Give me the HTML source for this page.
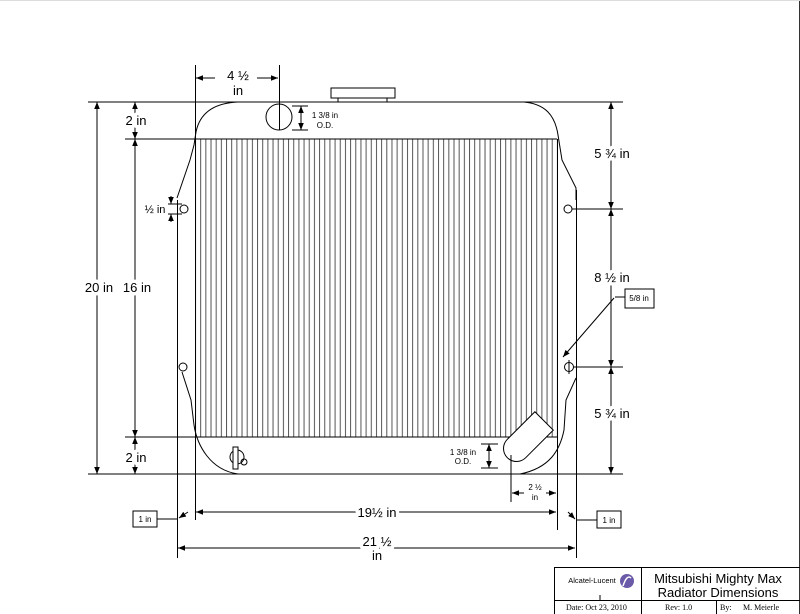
<!DOCTYPE html>
<html><head><meta charset="utf-8"><style>
html,body{margin:0;padding:0;background:#fff;}
svg{display:block;font-family:"Liberation Sans",sans-serif;}
.m{stroke:#fff;stroke-width:7px;paint-order:stroke;stroke-linejoin:round;}
</style></head><body>
<svg width="800" height="614" viewBox="0 0 800 614" xmlns="http://www.w3.org/2000/svg">
<defs>
<pattern id="fins" x="195" y="0" width="5.17" height="10" patternUnits="userSpaceOnUse">
<line x1="0.5" y1="0" x2="0.5" y2="10" stroke="#555" stroke-width="1"/>
</pattern>
<marker id="a" viewBox="0 0 10 10" refX="10" refY="5" markerWidth="7" markerHeight="7" orient="auto-start-reverse"><path d="M0,1 L10,5 L0,9z" fill="#000"/></marker>
</defs>
<rect x="0" y="0" width="800" height="614" fill="#fff"/>
<line x1="799.5" y1="0" x2="799.5" y2="614" stroke="#333"/>
<line x1="0" y1="0.5" x2="800" y2="0.5" stroke="#ddd"/>
<g stroke="#000" fill="none" stroke-width="1">
<rect x="195" y="139" width="363" height="298" fill="url(#fins)" stroke="none"/>
<line x1="557.5" y1="139" x2="557.5" y2="530"/>
<line x1="88" y1="102" x2="623" y2="102"/>
<line x1="125" y1="139" x2="557" y2="139"/>
<line x1="125" y1="437" x2="557" y2="437"/>
<line x1="88" y1="474" x2="623" y2="474"/>
<path d="M238,102 C215,103 200,112 196,132 L194,145 L190,160 L177,198"/>
<path d="M182,372 L191,400 L194,425 C197,445 210,470 238,474"/>
<path d="M524,102 C545,104 555,115 558,135 L562,160 L576,188 L576,200"/>
<path d="M576,378 L566,400 L564,430 C560,450 550,468 520,474"/>
<line x1="195.5" y1="65" x2="195.5" y2="520"/>
<line x1="177.5" y1="200" x2="177.5" y2="558"/>
<line x1="576.5" y1="190" x2="576.5" y2="558"/>
<line x1="279.5" y1="65" x2="279.5" y2="130"/>
<rect x="331" y="88" width="64" height="10"/>
<line x1="338" y1="98" x2="338" y2="102"/><line x1="387" y1="98" x2="387" y2="102"/>
<circle cx="279" cy="117" r="13" fill="#fff"/>
<line x1="279.5" y1="104" x2="279.5" y2="130"/>
<line x1="292" y1="106" x2="308" y2="106"/><line x1="292" y1="130" x2="308" y2="130"/>
<line x1="301" y1="106" x2="301" y2="130" marker-start="url(#a)" marker-end="url(#a)"/>
<circle cx="184" cy="209" r="4"/><circle cx="183" cy="367" r="4"/>
<circle cx="568" cy="209" r="4"/><circle cx="569" cy="367" r="4.5"/>
<line x1="569" y1="360" x2="569" y2="374"/>
<line x1="572" y1="209" x2="623" y2="209"/><line x1="573" y1="367" x2="623" y2="367"/>
<line x1="168" y1="204" x2="182" y2="204"/><line x1="168" y1="214" x2="182" y2="214"/>
<line x1="171" y1="196" x2="171" y2="204" marker-end="url(#a)"/>
<line x1="171" y1="222" x2="171" y2="214" marker-end="url(#a)"/>
<line x1="97" y1="102" x2="97" y2="474" marker-start="url(#a)" marker-end="url(#a)"/>
<line x1="135" y1="102" x2="135" y2="139" marker-start="url(#a)" marker-end="url(#a)"/>
<line x1="135" y1="139" x2="135" y2="437" marker-start="url(#a)" marker-end="url(#a)"/>
<line x1="135" y1="437" x2="135" y2="474" marker-start="url(#a)" marker-end="url(#a)"/>
<line x1="611" y1="102" x2="611" y2="209" marker-start="url(#a)" marker-end="url(#a)"/>
<line x1="611" y1="209" x2="611" y2="367" marker-start="url(#a)" marker-end="url(#a)"/>
<line x1="611" y1="367" x2="611" y2="474" marker-start="url(#a)" marker-end="url(#a)"/>
<line x1="215" y1="78" x2="196" y2="78" marker-end="url(#a)"/>
<line x1="257" y1="78" x2="278" y2="78" marker-end="url(#a)"/>
<line x1="196" y1="512" x2="556" y2="512" marker-start="url(#a)" marker-end="url(#a)"/>
<line x1="178" y1="548" x2="575" y2="548" marker-start="url(#a)" marker-end="url(#a)"/>
<g transform="rotate(-45 525 440)"><path d="M513,427 H552 V453 H513 A13,13 0 0 1 513,427 Z" fill="#fff"/></g>
<line x1="511" y1="455" x2="511" y2="502"/>
<line x1="481" y1="444" x2="498" y2="444"/><line x1="481" y1="468" x2="498" y2="468"/>
<line x1="489" y1="444" x2="489" y2="468" marker-start="url(#a)" marker-end="url(#a)"/>
<line x1="524" y1="493" x2="512" y2="493" marker-end="url(#a)"/>
<line x1="546" y1="493" x2="556" y2="493" marker-end="url(#a)"/>
<circle cx="237" cy="457" r="7"/>
<rect x="233" y="447" width="5" height="22" fill="#fff"/>
<circle cx="244" cy="462" r="3"/>
<rect x="133" y="511" width="24" height="16"/>
<line x1="157" y1="519" x2="177" y2="519"/>
<line x1="188" y1="512" x2="179" y2="518" marker-end="url(#a)"/>
<rect x="597" y="511" width="24" height="17"/>
<line x1="577" y1="520" x2="597" y2="520"/>
<line x1="568" y1="512" x2="575" y2="519" marker-end="url(#a)"/>
<rect x="625" y="289" width="29" height="19"/>
<line x1="625" y1="297" x2="615" y2="297"/>
<line x1="614" y1="298" x2="563" y2="357" marker-end="url(#a)"/>
<rect x="554.5" y="567.5" width="246" height="47"/>
<line x1="641.5" y1="568" x2="641.5" y2="614"/>
<line x1="554" y1="600.5" x2="800" y2="600.5"/>
<line x1="716.5" y1="600" x2="716.5" y2="614"/>
<line x1="600" y1="595" x2="600" y2="600"/>
</g>
<circle cx="627" cy="581" r="7" fill="#6a5aa8"/>
<path d="M623,586 Q627,574 631,578" stroke="#fff" stroke-width="1.5" fill="none"/>
<g fill="#000" font-size="13" text-anchor="middle">
<text x="238" y="80">4 ½</text><text x="238" y="95">in</text>
<text class="m" x="136" y="125">2 in</text>
<text class="m" x="136" y="462">2 in</text>
<text class="m" x="99" y="292">20 in</text>
<text class="m" x="137" y="292">16 in</text>
<text class="m" x="612" y="158">5 ¾ in</text>
<text class="m" x="612" y="282">8 ½ in</text>
<text class="m" x="612" y="418">5 ¾ in</text>
<text class="m" x="377" y="517">19½ in</text>
<text class="m" x="377" y="546">21 ½</text><text x="377" y="560">in</text>
<text x="155" y="213" font-size="11">½ in</text>
</g>
<g fill="#000" font-size="8" text-anchor="middle">
<text x="325" y="118">1 3/8 in</text><text x="325" y="128">O.D.</text>
<text x="463" y="455">1 3/8 in</text><text x="463" y="464">O.D.</text>
<text x="535" y="490">2 ½</text><text x="535" y="500">in</text>
<text x="145" y="522">1 in</text>
<text x="609" y="523">1 in</text>
<text x="639" y="301">5/8 in</text>
<text x="592" y="583" font-size="7.5">Alcatel-Lucent</text>
</g>
<text x="718" y="583" font-size="13" text-anchor="middle" fill="#000">Mitsubishi Mighty Max</text>
<text x="718" y="597" font-size="13" text-anchor="middle" fill="#000">Radiator Dimensions</text>
<g font-family="Liberation Serif,serif" font-size="8" fill="#000">
<text x="566" y="610">Date: Oct 23, 2010</text>
<text x="665" y="610">Rev:  1.0</text>
<text x="720" y="610">By:</text><text x="743" y="610">M. Meierle</text>
</g>
</svg>
</body></html>
